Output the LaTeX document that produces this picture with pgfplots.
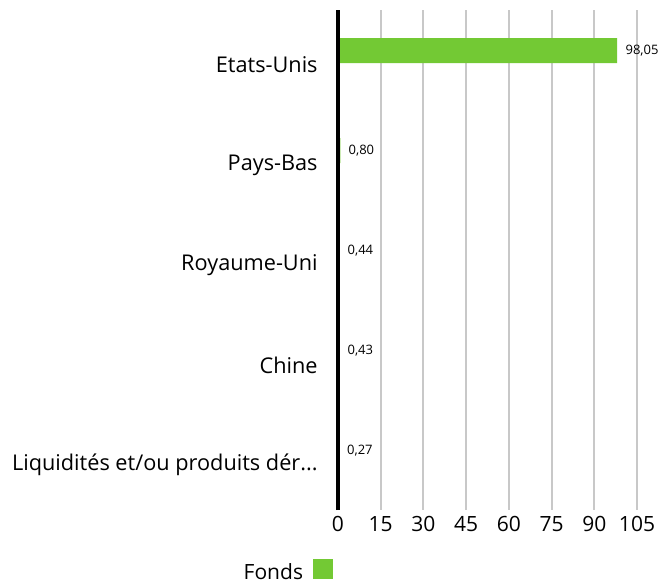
\documentclass[border=0pt]{standalone}
\usepackage{pgfplots}
\usepackage{pgfplotstable}
\pgfplotsset{compat=1.18}
\usepackage{fontspec}
\setmainfont{Open Sans}
\definecolor{barg}{RGB}{115,201,52}
\definecolor{gridg}{RGB}{200,200,200}
\pgfplotstableread{
y v lab
0 98.05 98,05
1 0.80 0,80
2 0.44 0,44
3 0.43 0,43
4 0.27 0,27
}\datatable
\begin{document}
\begin{tikzpicture}
\begin{axis}[
 scale only axis, width=149.5pt, height=250pt,
 clip=false,
 xbar, bar width=12.5pt, bar shift=4.75pt,
 xmin=0, xmax=105, ymin=-0.5, ymax=4.5, y dir=reverse,
 xtick={0,15,30,45,60,75,90,105}, ytick={0,1,2,3,4},
 yticklabels={Etats-Unis, Pays-Bas, Royaume-Uni, Chine, {Liquidités et/ou produits dér.{}.{}.}},
 /pgf/number format/assume math mode=true,
 xmajorgrids, major grid style={gridg, line width=1pt},
 axis x line*=bottom, axis y line*=left,
 x axis line style={draw=none},
 y axis line style={draw=none},
 major tick length=0pt,
 tick label style={font=\fontsize{10.5}{12}\selectfont, inner sep=0pt},
 yticklabel style={font=\fontsize{10.85}{13}\selectfont, yshift=-2.5pt},
 yticklabel shift=10pt,
 xticklabel shift=3pt,
 nodes near coords, point meta=explicit symbolic,
 nodes near coords style={font=\fontsize{6.5}{8}\selectfont, anchor=west, inner sep=0pt, xshift=4pt},
 legend entries={Fonds},
 legend plot pos=right,
 legend image code/.code={\fill[barg] (0pt,-3pt) rectangle (10pt,7pt);},
 legend style={at={(-0.33,-0.126)}, anchor=west, draw=none, inner sep=0pt, column sep=3pt, font=\fontsize{10.5}{12}\selectfont},
]
\addplot[fill=barg, draw=none] table[x=v, y=y, meta=lab] {\datatable};
\draw[black, line width=2.35pt] (rel axis cs:0,0) -- (rel axis cs:0,1);
\end{axis}
\path (current axis.south west) ++(-169pt,-35pt) rectangle ++(331pt,290pt);
\end{tikzpicture}
\end{document}
